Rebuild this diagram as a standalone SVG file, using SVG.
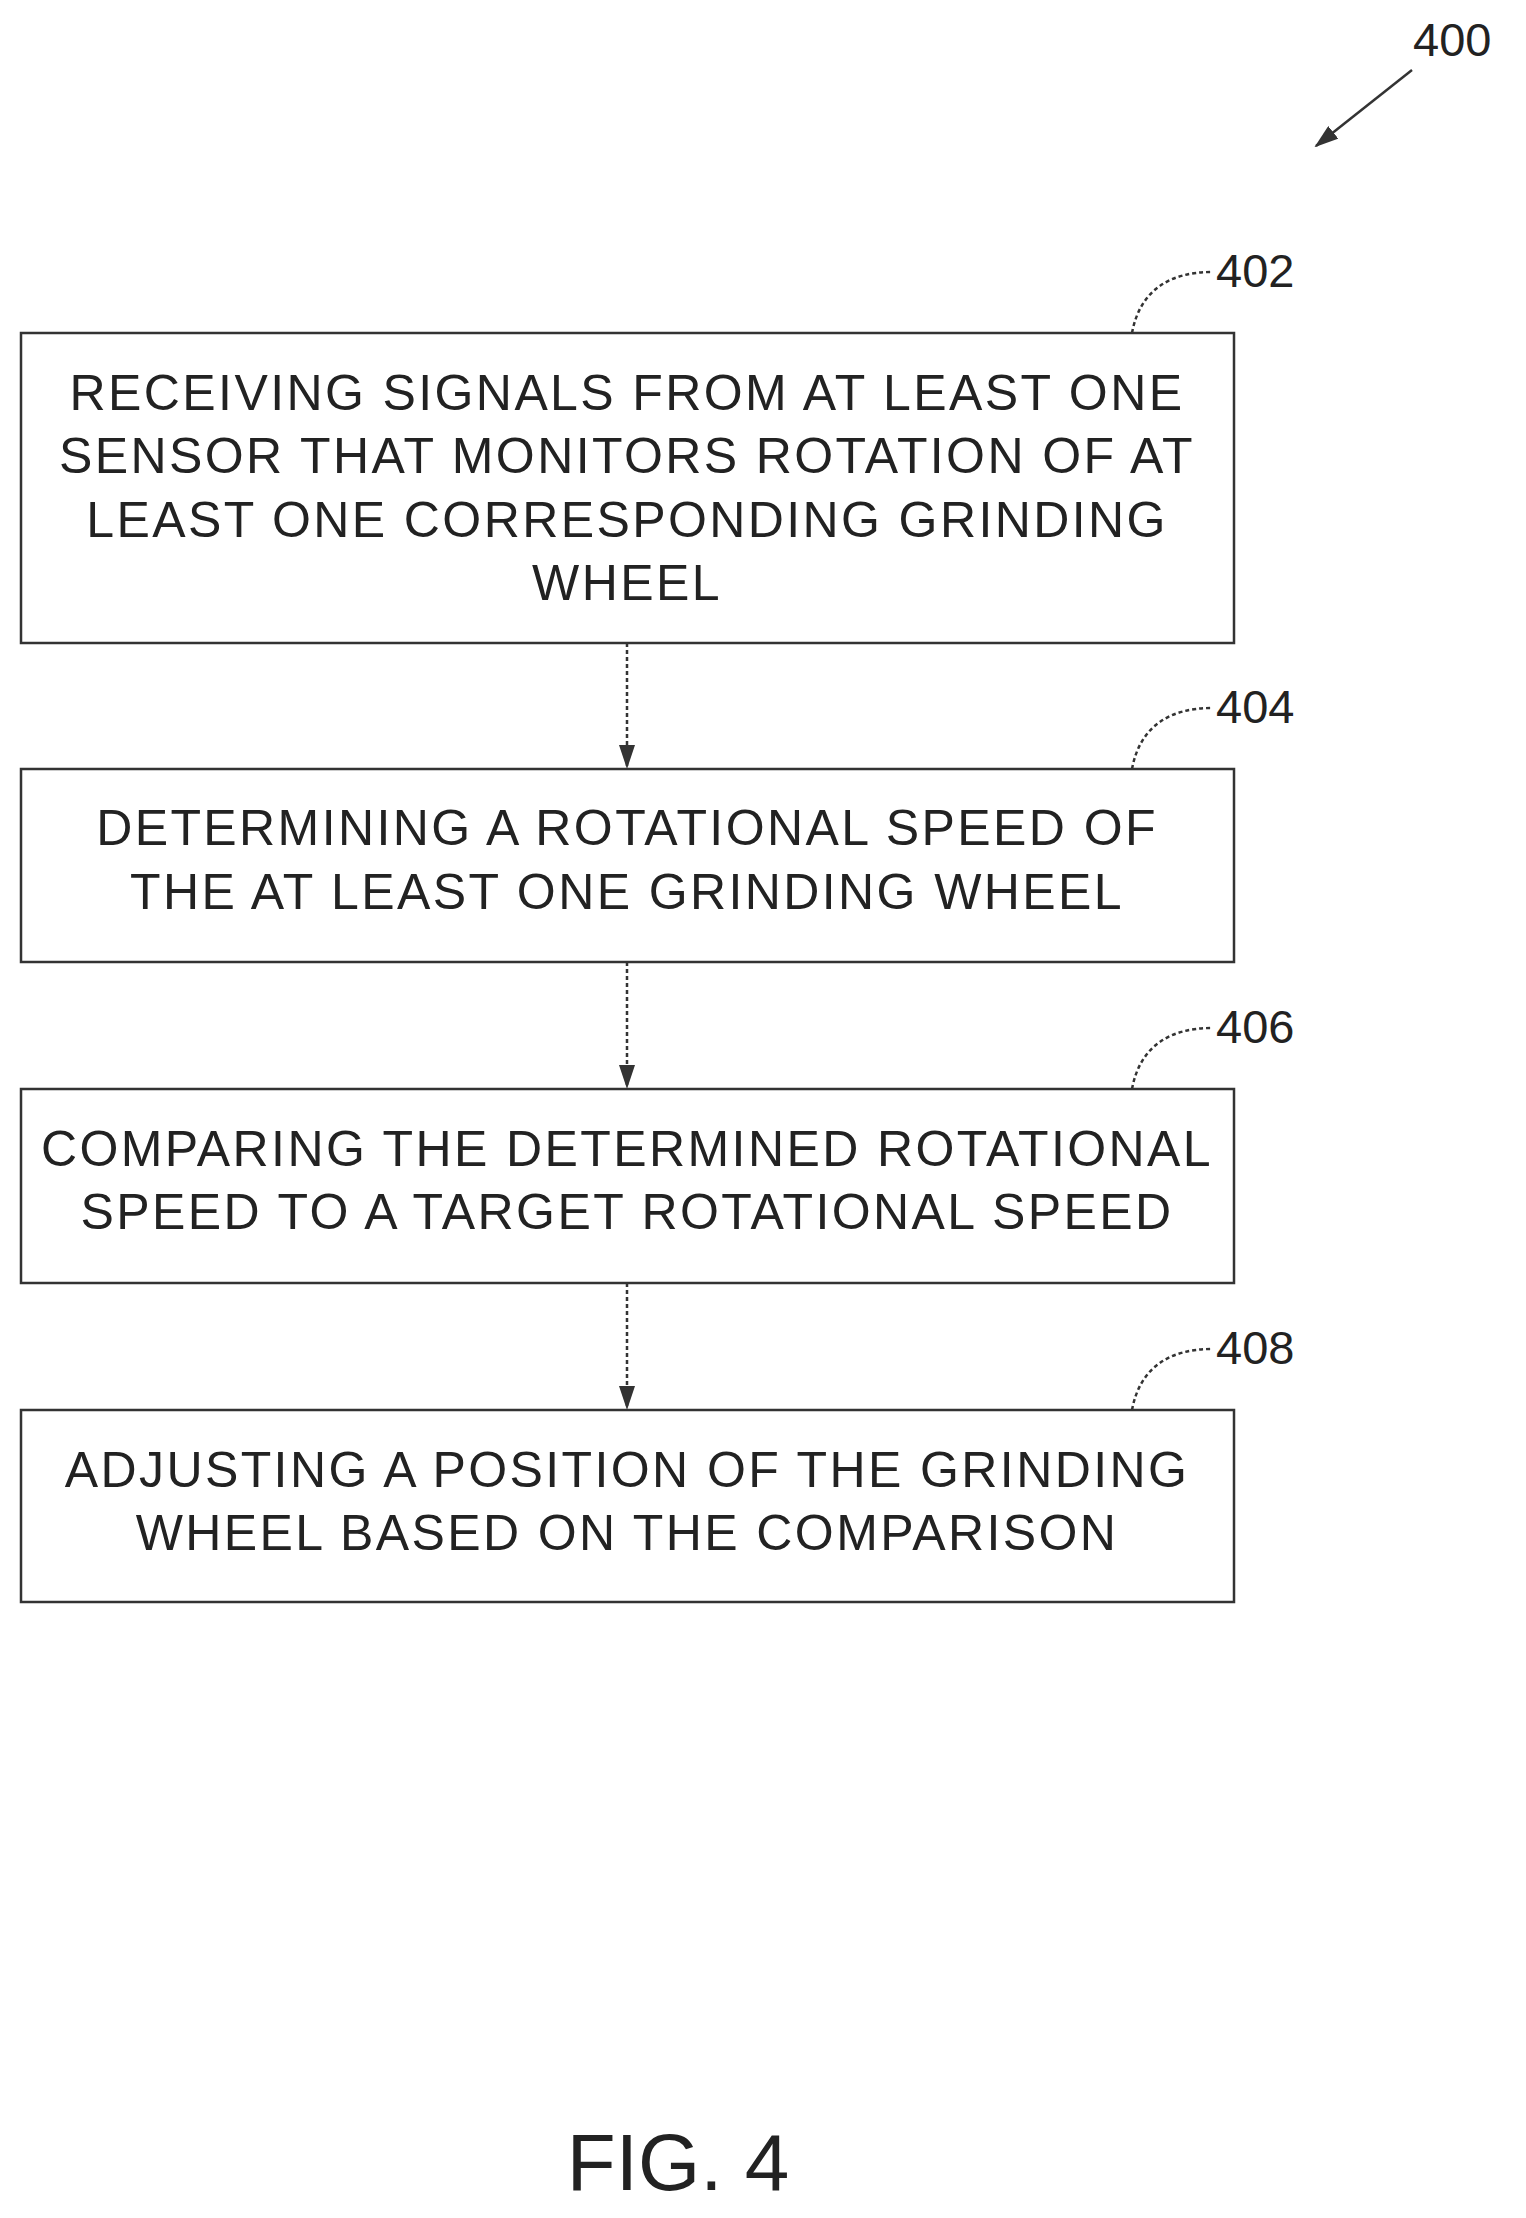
<svg xmlns="http://www.w3.org/2000/svg" width="1526" height="2218" viewBox="0 0 1526 2218">
<style>
.box{fill:#fff;stroke:#333;stroke-width:2.5}
.t{font-family:"Liberation Sans",Arial,sans-serif;font-size:50px;letter-spacing:2.4px;fill:#222;text-anchor:middle}
.n{font-family:"Liberation Sans",Arial,sans-serif;font-size:47px;fill:#222}
.c{stroke:#333;stroke-width:2.5;fill:none}
.l{stroke:#333;stroke-width:2.5;fill:none;stroke-dasharray:4 3}
</style>
<defs>
<marker id="b" markerWidth="24" markerHeight="16" refX="22" refY="8" orient="auto" markerUnits="userSpaceOnUse" viewBox="0 0 24 16"><path d="M0,0 L24,8 L0,16 Z" fill="#333"/></marker></defs>
<g id="label400"><text class="n" x="1413" y="56">400</text><path class="c" d="M1412,70 L1316,146" marker-end="url(#b)"/></g>
<g id="n402"><rect class="box" x="21" y="333" width="1213" height="310"/>
<text class="t" x="627" y="410">RECEIVING SIGNALS FROM AT LEAST ONE</text>
<text class="t" x="627" y="473">SENSOR THAT MONITORS ROTATION OF AT</text>
<text class="t" x="627" y="537">LEAST ONE CORRESPONDING GRINDING</text>
<text class="t" x="627" y="600">WHEEL</text>
<path class="l" d="M1132,333 C1140,290 1170,272 1212,272"/><text class="n" x="1216" y="287">402</text></g>
<g id="n404"><rect class="box" x="21" y="769" width="1213" height="193"/>
<text class="t" x="627" y="845">DETERMINING A ROTATIONAL SPEED OF</text>
<text class="t" x="627" y="909">THE AT LEAST ONE GRINDING WHEEL</text>
<path class="l" d="M1132,769 C1140,726 1170,708 1212,708"/><text class="n" x="1216" y="723">404</text></g>
<g id="n406"><rect class="box" x="21" y="1089" width="1213" height="194"/>
<text class="t" x="627" y="1166">COMPARING THE DETERMINED ROTATIONAL</text>
<text class="t" x="627" y="1229">SPEED TO A TARGET ROTATIONAL SPEED</text>
<path class="l" d="M1132,1089 C1140,1046 1170,1028 1212,1028"/><text class="n" x="1216" y="1043">406</text></g>
<g id="n408"><rect class="box" x="21" y="1410" width="1213" height="192"/>
<text class="t" x="627" y="1487">ADJUSTING A POSITION OF THE GRINDING</text>
<text class="t" x="627" y="1550">WHEEL BASED ON THE COMPARISON</text>
<path class="l" d="M1132,1410 C1140,1367 1170,1349 1212,1349"/><text class="n" x="1216" y="1364">408</text></g>
<g id="connectors">
<path class="l" d="M627,643 L627,767" marker-end="url(#b)"/>
<path class="l" d="M627,962 L627,1087" marker-end="url(#b)"/>
<path class="l" d="M627,1283 L627,1408" marker-end="url(#b)"/>
</g>
<text x="678" y="2190" font-family="Liberation Sans,Arial,sans-serif" font-size="80" text-anchor="middle" fill="#222">FIG. 4</text>
</svg>
